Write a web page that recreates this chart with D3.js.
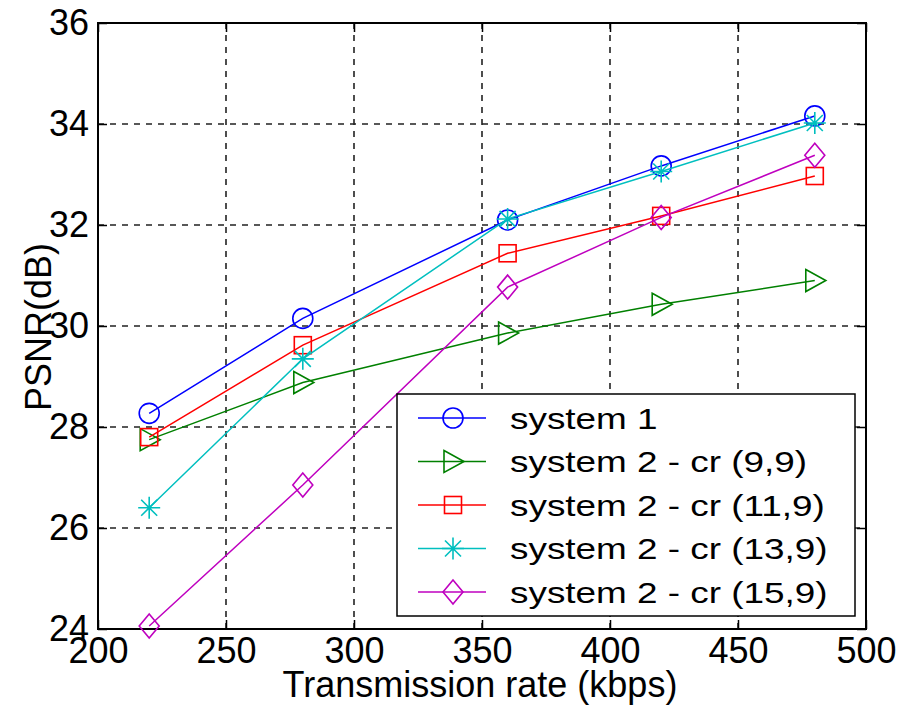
<!DOCTYPE html>
<html>
<head>
<meta charset="utf-8">
<script src="https://cdn.jsdelivr.net/npm/d3@7"></script>
<style>
  html, body { margin: 0; padding: 0; background: #fff; }
  svg { display: block; font-family: "Liberation Sans", Arial, sans-serif; }
</style>
</head>
<body>
<svg id="chart" width="910" height="710"></svg>
<script>
// data
const rates = [220, 280, 360, 420, 480];
const system1 = [28.27, 30.15, 32.1, 33.17, 34.16];
const cr9_9 = [27.75, 28.88, 29.86, 30.43, 30.9];
const cr11_9 = [27.8, 29.62, 31.44, 32.18, 32.97];
const cr13_9 = [26.4, 29.35, 32.12, 33.06, 34.02];
const cr15_9 = [24.06, 26.85, 30.77, 32.15, 33.38];

const seriesNames = ["system 1", "system 2 - cr (9,9)", "system 2 - cr (11,9)", "system 2 - cr (13,9)", "system 2 - cr (15,9)"];
const xTicks = [200, 250, 300, 350, 400, 450, 500];
const yTicks = [24, 26, 28, 30, 32, 34, 36];

const series = [
  { name: seriesNames[0], values: system1, color: "#0000ff", marker: "circle" },
  { name: seriesNames[1], values: cr9_9, color: "#008000", marker: "triangle" },
  { name: seriesNames[2], values: cr11_9, color: "#ff0000", marker: "square" },
  { name: seriesNames[3], values: cr13_9, color: "#00bfbf", marker: "star" },
  { name: seriesNames[4], values: cr15_9, color: "#bf00bf", marker: "diamond" }
];

const mLeft = 98, mRight = 866, mTop = 23, mBottom = 629;

const x = d3.scaleLinear().domain([200, 500]).range([mLeft, mRight]);
const y = d3.scaleLinear().domain([24, 36]).range([mBottom, mTop]);

const svg = d3.select("#chart");

// grid
const grid = svg.append("g")
    .attr("stroke", "#222")
    .attr("stroke-width", 1.6)
    .attr("stroke-dasharray", "6,6");

grid.selectAll("line.gx")
  .data(xTicks.slice(1, -1))
  .join("line")
    .attr("class", "gx")
    .attr("x1", d => x(d)).attr("x2", d => x(d))
    .attr("y1", mTop).attr("y2", mBottom);

grid.selectAll("line.gy")
  .data(yTicks.slice(1, -1))
  .join("line")
    .attr("class", "gy")
    .attr("x1", mLeft).attr("x2", mRight)
    .attr("y1", d => y(d)).attr("y2", d => y(d));

// axes with inward ticks (all four sides)
const tk = 9;
const xAxisB = d3.axisBottom(x).tickValues(xTicks).tickSizeInner(-tk).tickSizeOuter(0).tickPadding(9);
const xAxisT = d3.axisTop(x).tickValues(xTicks).tickSizeInner(-tk).tickSizeOuter(0).tickFormat("");
const yAxisL = d3.axisLeft(y).tickValues(yTicks).tickSizeInner(-tk).tickSizeOuter(0).tickPadding(9);
const yAxisR = d3.axisRight(y).tickValues(yTicks).tickSizeInner(-tk).tickSizeOuter(0).tickFormat("");

function styleAxis(g) {
  g.select(".domain").remove();
  g.selectAll(".tick line").attr("stroke", "#000").attr("stroke-width", 1.5);
  g.selectAll(".tick text").attr("fill", "#000").attr("font-size", 36)
    .attr("font-family", "Liberation Sans, Arial, sans-serif");
}

svg.append("g").attr("transform", `translate(0,${mBottom})`).call(xAxisB).call(styleAxis)
  .selectAll(".tick text").attr("dy", "0.7em");
svg.append("g").attr("transform", `translate(0,${mTop})`).call(xAxisT).call(styleAxis);
svg.append("g").attr("transform", `translate(${mLeft},0)`).call(yAxisL).call(styleAxis);
svg.append("g").attr("transform", `translate(${mRight},0)`).call(yAxisR).call(styleAxis);

// frame
svg.append("rect")
    .attr("x", mLeft).attr("y", mTop)
    .attr("width", mRight - mLeft).attr("height", mBottom - mTop)
    .attr("fill", "none")
    .attr("stroke", "#000")
    .attr("stroke-width", 2);

// axis titles
svg.append("text")
    .attr("x", (mLeft + mRight) / 2 - 2)
    .attr("y", 697)
    .attr("text-anchor", "middle")
    .attr("font-size", 36)
    .text("Transmission rate (kbps)");

svg.append("text")
    .attr("transform", "translate(51,327) rotate(-90)")
    .attr("text-anchor", "middle")
    .attr("font-size", 36)
    .text("PSNR(dB)");

// markers
function drawMarker(g, type, color) {
  if (type === "circle") {
    g.append("circle").attr("r", 10).attr("fill", "none").attr("stroke", color).attr("stroke-width", 1.6);
  } else if (type === "square") {
    g.append("rect").attr("x", -8.5).attr("y", -8.5).attr("width", 17).attr("height", 17)
      .attr("fill", "none").attr("stroke", color).attr("stroke-width", 1.6);
  } else if (type === "triangle") {
    g.append("path").attr("d", "M-9,-11L11,0L-9,11Z")
      .attr("fill", "none").attr("stroke", color).attr("stroke-width", 1.6);
  } else if (type === "diamond") {
    g.append("path").attr("d", "M0,-12L10,0L0,12L-10,0Z")
      .attr("fill", "none").attr("stroke", color).attr("stroke-width", 1.6);
  } else if (type === "star") {
    g.append("path").attr("d", "M-11,0L11,0M0,-11L0,11M-8,-8L8,8M-8,8L8,-8")
      .attr("fill", "none").attr("stroke", color).attr("stroke-width", 1.6);
  }
}

const line = d3.line()
    .x(d => x(d[0]))
    .y(d => y(d[1]));

series.forEach(s => {
  const pts = rates.map((r, i) => [r, s.values[i]]);
  svg.append("path")
      .datum(pts)
      .attr("fill", "none")
      .attr("stroke", s.color)
      .attr("stroke-width", 1.5)
      .attr("d", line);
  svg.append("g").selectAll("g")
    .data(pts)
    .join("g")
      .attr("transform", d => `translate(${x(d[0])},${y(d[1])})`)
      .each(function() { drawMarker(d3.select(this), s.marker, s.color); });
});

// legend
const lx = 397, ly = 394, lw = 458, lh = 222;
const legend = svg.append("g");
legend.append("rect")
    .attr("x", lx).attr("y", ly)
    .attr("width", lw).attr("height", lh)
    .attr("fill", "#fff")
    .attr("stroke", "#000")
    .attr("stroke-width", 1.5);

const rowY = d3.scalePoint().domain(seriesNames).range([418, 592]);

series.forEach(s => {
  const yy = rowY(s.name);
  legend.append("line")
      .attr("x1", 418).attr("x2", 486)
      .attr("y1", yy).attr("y2", yy)
      .attr("stroke", s.color).attr("stroke-width", 1.5);
  drawMarker(legend.append("g").attr("transform", `translate(453,${yy})`), s.marker, s.color);
  legend.append("text")
      .attr("transform", `translate(510,${yy}) scale(1.23,1)`)
      .attr("dy", "0.36em")
      .attr("font-size", 30)
      .text(s.name);
});
</script>
</body>
</html>
